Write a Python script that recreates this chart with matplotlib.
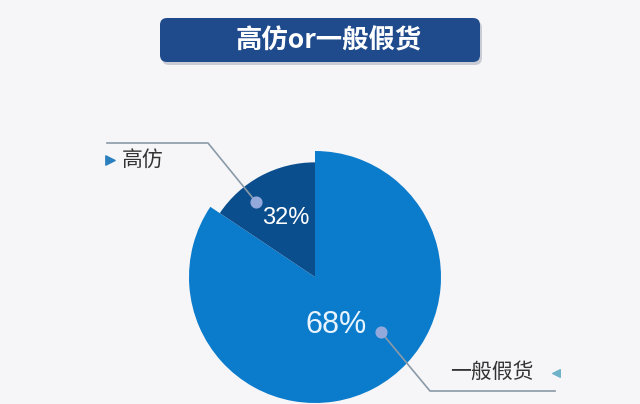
import matplotlib.pyplot as plt
from matplotlib.patches import FancyBboxPatch

plt.rcParams['font.family'] = ['Noto Sans CJK SC', 'DejaVu Sans']

title = '高仿or一般假货'
names = ['高仿', '一般假货']
labels = ['32%', '68%']
# share of the circle each wedge covers as drawn in the picture
drawn_share = [15.6, 84.4]
colors = ['#0b4e8e', '#0b7bcb']

H = 404
fig = plt.figure(figsize=(6.4, 4.04), dpi=100)
fig.patch.set_facecolor('#f6f6f8')
ax = fig.add_axes([0, 0, 1, 1])
ax.set_facecolor('#f6f6f8')

cx, cy, R = 315, H - 277, 126
wedges, _ = ax.pie(drawn_share, colors=colors, startangle=90, counterclock=True,
                   center=(cx, cy), radius=R, frame=True,
                   wedgeprops=dict(linewidth=0))
wedges[0].set_radius(R * 0.91)
wedges[0].set_zorder(3)

# title box with soft shadow
ax.add_patch(FancyBboxPatch((162, H - 65), 320, 44, boxstyle='round,pad=0,rounding_size=7',
                            fc='#c9ccd4', ec='none', zorder=4))
ax.add_patch(FancyBboxPatch((160, H - 62), 320, 44, boxstyle='round,pad=0,rounding_size=7',
                            fc='#1f4b8d', ec='none', zorder=5))
ax.text(329, H - 41, title, color='white', fontsize=19, fontweight='bold',
        ha='center', va='center', zorder=6)

# percent labels
pct_font = ['Liberation Sans', 'DejaVu Sans']
ax.text(286, H - 218, labels[0], color='white', fontsize=17, family=pct_font,
        ha='center', va='center', zorder=6)
ax.text(336, H - 325, labels[1], color='#e8f4ff', fontsize=22, family=pct_font,
        ha='center', va='center', zorder=6)

# leader lines
line_c = '#8b9aa8'
ax.plot([107, 208, 256], [H - 143, H - 143, H - 202], color=line_c, lw=1.2, zorder=4)
ax.plot([381, 430, 555], [H - 332, H - 391, H - 391], color=line_c, lw=1.2, zorder=4)
ax.scatter([256, 381], [H - 202, H - 332], s=60, color='#93a9dc', zorder=7)

# category names with triangle markers
ax.scatter([110], [H - 160], marker='>', s=45, color='#2a7fbf', zorder=6)
ax.text(122, H - 160, names[0], color='#333333', fontsize=15, ha='left', va='center', zorder=6)
ax.text(450, H - 372, names[1], color='#333333', fontsize=15, ha='left', va='center', zorder=6)
ax.scatter([556], [H - 373], marker='<', s=30, color='#6fb3c9', zorder=6)

ax.set_xlim(0, 640)
ax.set_ylim(0, H)
ax.axis('off')
fig.savefig('out.png', dpi=100, facecolor=fig.get_facecolor())
